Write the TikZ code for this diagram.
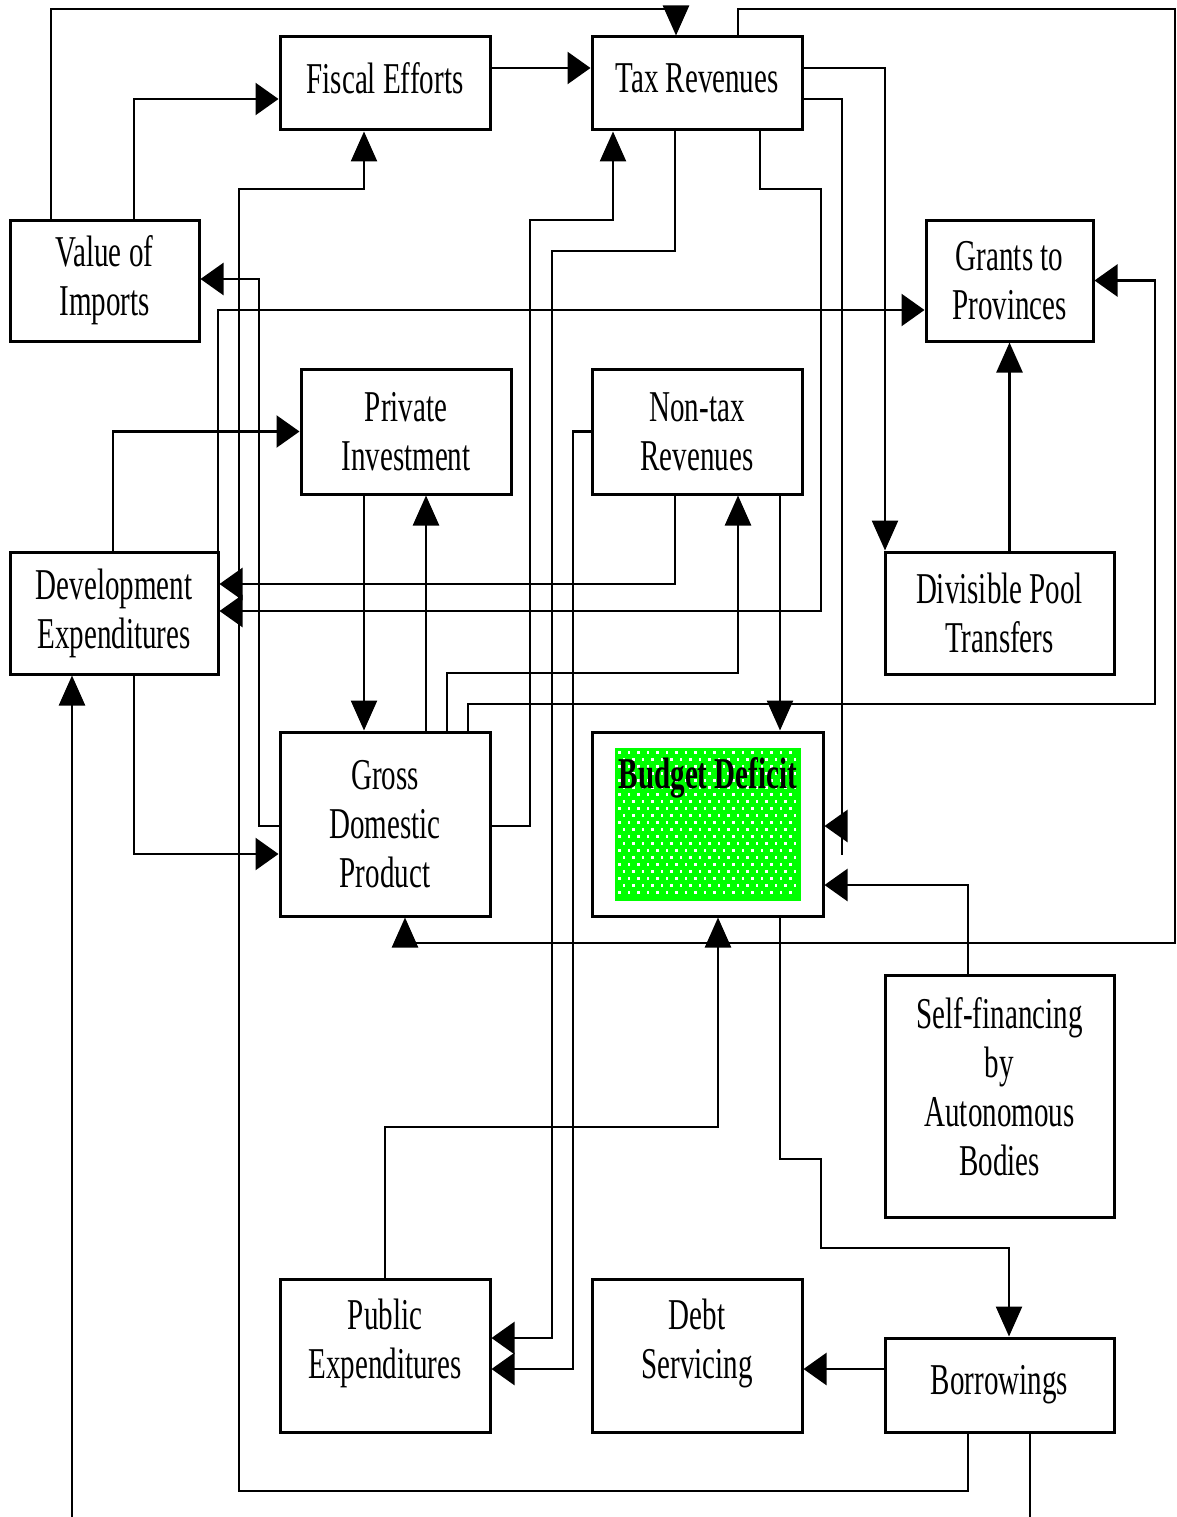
\documentclass[tikz,border=0pt]{standalone}
\usepackage{fontspec}
\setmainfont{Liberation Serif}[FakeStretch=0.66]
\usetikzlibrary{arrows.meta}
\definecolor{dgreen}{RGB}{0,255,0}
\begin{document}
\begin{tikzpicture}[x=1pt,y=-1pt,
  box/.style={draw, line width=3pt, inner sep=0pt, align=center,
    font=\fontsize{44}{49}\selectfont},
  conn/.style={line width=2.5pt},
  arrh/.style={conn,-{Triangle[length=23pt,width=32pt]}},
  arrv/.style={conn,-{Triangle[length=30pt,width=26pt]}}]
\useasboundingbox (0,0) rectangle (1177,1517);
\fill[white] (0,0) rectangle (1177,1517);

% boxes
\node[box, minimum width=189pt, minimum height=121pt] (imp) at (104.5,280.5) {Value of\\Imports};
\node[box, minimum width=210pt, minimum height=93pt, text depth=10pt] (fis) at (385,83.5) {Fiscal Efforts};
\node[box, minimum width=210pt, minimum height=93pt, text depth=10pt] (tax) at (697,83.5) {Tax Revenues};
\node[box, minimum width=167pt, minimum height=121pt] (gra) at (1009.5,280.5) {Grants to\\Provinces};
\node[box, minimum width=210pt, minimum height=125pt] (pri) at (406,431.5) {Private\\Investment};
\node[box, minimum width=210pt, minimum height=125pt] (non) at (697,431.5) {Non-tax\\Revenues};
\node[box, minimum width=208pt, minimum height=122pt] (dev) at (114,613) {Development\\Expenditures};
\node[box, minimum width=229pt, minimum height=122pt] (div) at (999.5,613) {Divisible Pool\\Transfers};
\node[box, minimum width=210pt, minimum height=184pt] (gdp) at (385,824) {Gross\\Domestic\\Product};
\node[box, minimum width=231pt, minimum height=184pt] (bud) at (707.5,824) {};
\node[box, minimum width=229pt, minimum height=242pt, text depth=20pt] (sel) at (999.5,1096) {Self-financing\\by\\Autonomous\\Bodies};
\node[box, minimum width=210pt, minimum height=153pt, text depth=33pt] (pub) at (385,1355.5) {Public\\Expenditures};
\node[box, minimum width=210pt, minimum height=153pt, text depth=33pt] (debt) at (697,1355.5) {Debt\\Servicing};
\node[box, minimum width=229pt, minimum height=94pt] (bor) at (999.5,1385) {Borrowings};

% budget deficit fill
\fill[dgreen] (615,748) rectangle (801,901);
\foreach \yy in {752,766,...,898}
  \foreach \xx in {619,628.5,...,798}
    \fill[white] (\xx-1,\yy-1) rectangle ++(2.5,2.5);
\foreach \yy in {759,773,...,898}
  \foreach \xx in {623.75,633.25,...,798}
    \fill[white] (\xx-1,\yy-1) rectangle ++(2.5,2.5);
\node[anchor=base, inner sep=0pt, font=\fontsize{44}{49}\selectfont\bfseries] (bdt) at (708,788) {Budget Deficit};

% free ends
\coordinate (din) at (72,1517);
\coordinate (bout) at (1030,1517);

% connectors
\draw[arrv] ([xshift=-53.5pt]imp.north) -- (51,9) -| ([xshift=-21pt]tax.north);
\draw[arrh] ([xshift=29.5pt]imp.north) |- ([yshift=-15.5pt]fis.west);
\draw[arrh] ([yshift=15.5pt]fis.east) -- ([yshift=15.5pt]tax.west);
\draw[arrv] ([xshift=-31.5pt]bor.south) |- (239,1491) -- (239,189) -| ([xshift=-21pt]fis.south);
\draw[arrv] ([yshift=-2pt]gdp.east) -| (530,220) -| ([xshift=-84pt]tax.south);
\draw[arrh] ([xshift=-22pt]tax.south) |- (552,251) |- ([yshift=17.5pt]pub.east);
\draw[arrh] ([xshift=63pt]tax.south) |- (821,189) |- ([yshift=2pt]dev.east);
\draw[arrh] ([yshift=-15.5pt]tax.east) -| (842,826) -- ([yshift=-2pt]bud.east);
\draw[conn] (842,824) -- (842,855);
\draw[arrv] ([yshift=15.5pt]tax.east) -| ([xshift=-114.5pt]div.north);
\draw[arrv] ([xshift=41pt]tax.north) |- (1175,9) |- (405,943) -- ([xshift=20pt]gdp.south);
\draw[arrv] (gra.south |- div.north) -- (gra.south);
\draw[arrh] ([xshift=83pt]gdp.north) |- (1155,704) |- (gra.east);
\draw[arrh] ([xshift=104pt]dev.north) |- ([yshift=-29.5pt]gra.west);
\draw[arrh] ([yshift=-2pt]gdp.west) -| (259,279) -- ([yshift=1.5pt]imp.east);
\draw[arrh] ([xshift=-1pt]dev.north) |- (pri.west);
\draw[arrv] ([xshift=-42pt]pri.south) -- ([xshift=-21pt]gdp.north);
\draw[arrv] ([xshift=41pt]gdp.north) -- ([xshift=20pt]pri.south);
\draw[arrh] (non.west) -| (573,1369) -- ([yshift=-13.5pt]pub.east);
\draw[arrh] ([xshift=-22pt]non.south) |- ([yshift=29pt]dev.east);
\draw[arrv] ([xshift=62pt]gdp.north) |- (738,673) -- ([xshift=41pt]non.south);
\draw[arrv] ([xshift=83pt]non.south) -- ([xshift=72.5pt]bud.north);
\draw[arrv] (pub.north) |- (718,1127) -- ([xshift=10.5pt]bud.south);
\draw[arrv] ([xshift=72.5pt]bud.south) |- (821,1159) |- (1009,1248) -- ([xshift=9.5pt]bor.north);
\draw[arrh] ([xshift=-31.5pt]sel.north) |- ([yshift=-61pt]bud.east);
\draw[arrh] ([yshift=16pt]bor.west) -- ([yshift=-13.5pt]debt.east);
\draw[conn] ([xshift=30.5pt]bor.south) -- (bout);
\draw[arrv] (din) -- ([xshift=-42pt]dev.south);
\draw[arrh] ([xshift=20pt]dev.south) |- ([yshift=-30pt]gdp.west);
\end{tikzpicture}
\end{document}
